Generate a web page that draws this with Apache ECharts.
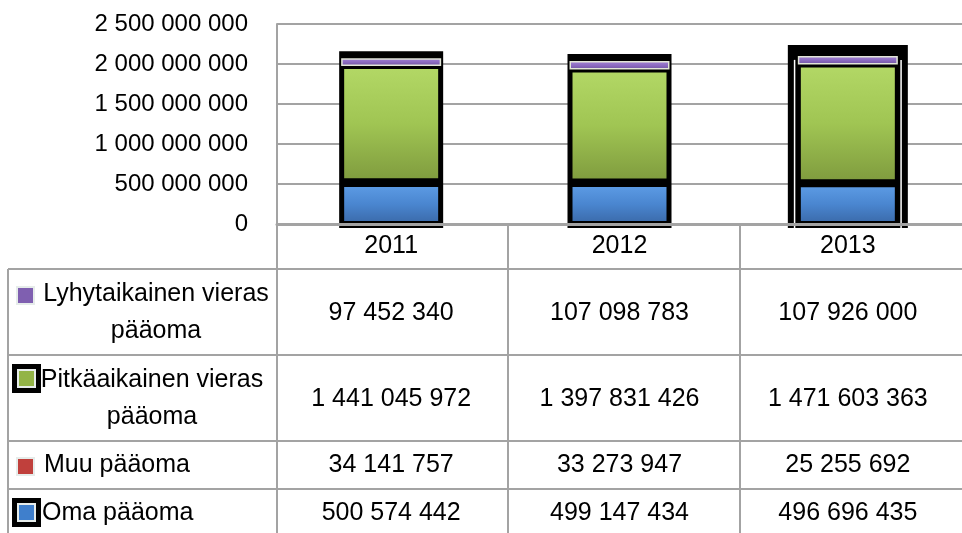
<!DOCTYPE html>
<html>
<head>
<meta charset="utf-8">
<script src="https://cdn.jsdelivr.net/npm/echarts@6/dist/echarts.min.js"></script>
<style>
  html, body { margin: 0; padding: 0; background: #fff; }
  #main { width: 962px; height: 533px; }
</style>
</head>
<body>
<div id="main"></div>
<script>
// data
var years = ['2011', '2012', '2013'];
var omaPaaoma = [500574442, 499147434, 496696435];
var muuPaaoma = [34141757, 33273947, 25255692];
var pitkaVieras = [1441045972, 1397831426, 1471603363];
var lyhytVieras = [97452340, 107098783, 107926000];
var yTicks = [0, 500000000, 1000000000, 1500000000, 2000000000, 2500000000];

var FONT = '"Liberation Sans", Arial, sans-serif';
var LINE = '#a3a3a3';

function fmt(v) {
    return String(v).replace(/\B(?=(\d{3})+(?!\d))/g, ' ');
}
function grad(c1, c2, c3) {
    return {
        type: 'linear', x: 0, y: 0, x2: 0, y2: 1,
        colorStops: [{offset: 0, color: c1}, {offset: 0.5, color: c2}, {offset: 1, color: c3}]
    };
}

// column totals, only used for the black frame behind each column
var totals = years.map(function (y, i) {
    return omaPaaoma[i] + muuPaaoma[i] + pitkaVieras[i] + lyhytVieras[i];
});

var myChart = echarts.init(document.getElementById('main'));

// table rows (top to bottom), each one drawn as an extra category axis
var rows = [
    {data: lyhytVieras, margin: 89},
    {data: pitkaVieras, margin: 175},
    {data: muuPaaoma, margin: 241},
    {data: omaPaaoma, margin: 289}
];

var xAxes = [{
    type: 'category',
    data: years,
    gridIndex: 0,
    position: 'bottom',
    z: 10,
    axisLine: {show: true, lineStyle: {color: LINE, width: 3}},
    axisTick: {show: false},
    splitLine: {show: false},
    axisLabel: {
        margin: 22, verticalAlign: 'middle',
        fontSize: 25, fontFamily: FONT, color: '#000'
    }
}];
rows.forEach(function (r) {
    xAxes.push({
        type: 'category',
        data: years,
        gridIndex: 0,
        position: 'bottom',
        axisLine: {show: false},
        axisTick: {show: false},
        splitLine: {show: false},
        axisLabel: {
            margin: r.margin, verticalAlign: 'middle',
            fontSize: 25, fontFamily: FONT, color: '#000',
            formatter: function (val, idx) { return fmt(r.data[idx]); }
        }
    });
});

// table grid lines + legend keys
var graphics = [];
function hline(y, x1, x2) {
    graphics.push({type: 'line', shape: {x1: x1, y1: y, x2: x2, y2: y}, style: {stroke: LINE, lineWidth: 2}, z: 1});
}
function vline(x, y1, y2) {
    graphics.push({type: 'line', shape: {x1: x, y1: y1, x2: x, y2: y2}, style: {stroke: LINE, lineWidth: 2}, z: 1});
}
hline(269, 8, 962);
hline(355, 8, 962);
hline(441, 8, 962);
hline(489, 8, 962);
vline(8, 269, 533);
vline(277, 224, 533);
vline(508, 224, 533);
vline(740, 224, 533);

function key(cx, cy, color, framed) {
    if (framed) {
        graphics.push({type: 'rect', shape: {x: cx - 14, y: cy - 14, width: 29, height: 29}, style: {fill: '#000'}, z: 2});
    }
    graphics.push({type: 'rect', shape: {x: cx - 9, y: cy - 9, width: 19, height: 19}, style: {fill: '#e6ecea'}, z: 3});
    graphics.push({type: 'rect', shape: {x: cx - 7, y: cy - 7, width: 15, height: 15}, style: {fill: color}, z: 4});
}
key(25, 295, '#7f5fb0', false);
key(26, 378, '#93b447', true);
key(25, 466, '#c0403c', false);
key(26, 512, '#3f7fcc', true);

function label(text, x, y, align) {
    graphics.push({
        type: 'text', x: x, y: y, z: 5,
        style: {text: text, fontSize: 25, fontFamily: FONT, fill: '#000', align: align, verticalAlign: 'middle', lineHeight: 37}
    });
}
label('Lyhytaikainen vieras\npääoma', 156, 313, 'center');
label('Pitkäaikainen vieras\npääoma', 152, 399, 'center');
label('Muu pääoma', 44, 465, 'left');
label('Oma pääoma', 42, 513, 'left');

var BAR_W = 100;
var segBorder = {borderColor: '#000', borderWidth: 3};

// black outline round a whole column; the last one is the "selected" look
function renderFrame(params, api) {
    var top = api.coord([api.value(0), api.value(1)]);
    var base = api.coord([api.value(0), 0]);
    var sel = params.dataIndex === 2;
    var pad = sel ? 10 : 2;
    var padTop = sel ? 11 : 7;
    var w = BAR_W + pad * 2;
    var x = top[0] - w / 2;
    var children = [{
        type: 'rect',
        shape: {x: x, y: top[1] - padTop, width: w, height: base[1] - top[1] + padTop + 4},
        style: {fill: '#000'}
    }];
    if (sel) {
        children.push({type: 'rect', shape: {x: x + 6, y: top[1] + 4, width: 1.5, height: base[1] - top[1]}, style: {fill: '#fff'}});
        children.push({type: 'rect', shape: {x: x + w - 7.5, y: top[1] + 4, width: 1.5, height: base[1] - top[1]}, style: {fill: '#fff'}});
    }
    return {type: 'group', children: children};
}

var option = {
    animation: false,
    backgroundColor: '#fff',
    grid: {left: 277, top: 24, width: 694, height: 200, containLabel: false},
    xAxis: xAxes,
    yAxis: {
        type: 'value',
        min: yTicks[0],
        max: yTicks[yTicks.length - 1],
        interval: yTicks[1] - yTicks[0],
        axisLine: {show: true, lineStyle: {color: LINE, width: 2}},
        axisTick: {show: false},
        splitLine: {show: true, lineStyle: {color: LINE, width: 2}},
        axisLabel: {
            margin: 29, fontSize: 24, fontFamily: FONT, color: '#000',
            formatter: function (v) { return fmt(v); }
        }
    },
    graphic: graphics,
    series: [
        {
            name: 'frame', type: 'custom', xAxisIndex: 0, z: 1,
            renderItem: renderFrame,
            data: totals.map(function (t, i) { return [i, t]; })
        },
        {
            name: 'Oma pääoma', type: 'bar', stack: 'total', barWidth: BAR_W, xAxisIndex: 0, z: 2,
            itemStyle: echarts.util.extend({color: grad('#5e9de6', '#4a86d0', '#3a69a8')}, segBorder),
            data: omaPaaoma
        },
        {
            name: 'Muu pääoma', type: 'bar', stack: 'total', xAxisIndex: 0, z: 2,
            itemStyle: echarts.util.extend({color: '#c0504d'}, segBorder),
            data: muuPaaoma
        },
        {
            name: 'Pitkäaikainen vieras pääoma', type: 'bar', stack: 'total', xAxisIndex: 0, z: 2,
            itemStyle: echarts.util.extend({color: grad('#b3d866', '#a0c553', '#7f9b3e')}, segBorder),
            data: pitkaVieras
        },
        {
            name: 'Lyhytaikainen vieras pääoma', type: 'bar', stack: 'total', xAxisIndex: 0, z: 2,
            itemStyle: {color: grad('#a384d6', '#8d6cc2', '#6e52a0'), borderColor: '#e2e6d8', borderWidth: 1.5},
            data: lyhytVieras
        }
    ]
};
myChart.setOption(option);
</script>
</body>
</html>
